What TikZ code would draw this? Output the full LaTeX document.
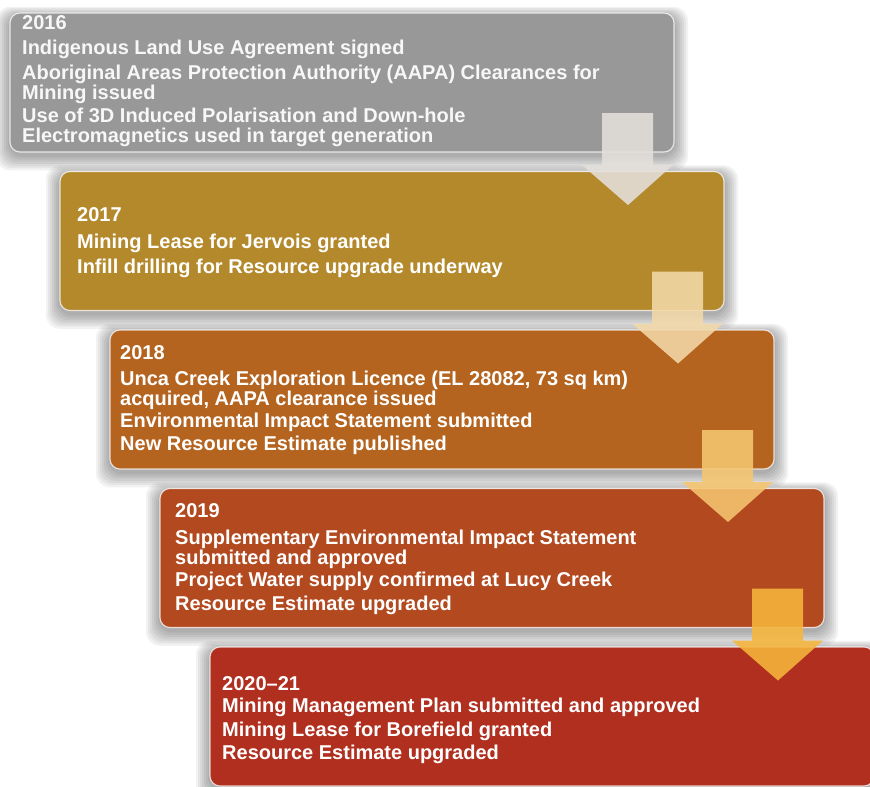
\documentclass[tikz,border=0pt]{standalone}
\usepackage{fontspec}
\setmainfont{Liberation Sans}
\usetikzlibrary{calc}
\definecolor{cbox1}{HTML}{989898}
\definecolor{cbox2}{HTML}{B4892C}
\definecolor{cbox3}{HTML}{B4641F}
\definecolor{cbox4}{HTML}{B2491F}
\definecolor{cbox5}{HTML}{B02F1F}
\definecolor{carr1}{HTML}{E4E0DC}
\definecolor{carr2}{HTML}{F3D9A8}
\definecolor{carr3}{HTML}{F6C670}
\definecolor{carr4}{HTML}{F7B63C}
\begin{document}
\begin{tikzpicture}[x=1pt,y=-1pt,
  box/.style={rectangle, rounded corners=10pt, minimum width=664pt, minimum height=139pt,
    inner sep=0pt, outer sep=0pt, anchor=north west, draw=white, draw opacity=0.75, line width=1.1pt},
  txt/.style={anchor=north west, align=left, inner sep=0pt, text=white,
    font=\bfseries\fontsize{20}{20}\selectfont},
  shadowlayer/.style={fill=black, fill opacity=0.05, rounded corners=14pt},
  pics/blockarrow/.style={code={
    \fill[#1, fill opacity=0.88] (0,0) -- (-46,-40) -- (-26,-40) -- (-26,-92) -- (25,-92)
      -- (25,-40) -- (45,-40) -- cycle;}}
]
\fill[white] (0,0) rectangle (870,787);
\clip (0,0) rectangle (870,787);
\useasboundingbox (0,0) rectangle (870,787);

% box 1
\foreach \k in {1,...,7}
  \fill[shadowlayer] (10-\k*2, 13-\k*1.3+3) rectangle (674+\k*2, 152+\k*2.2+3);
\node[box, fill=cbox1] (b1) at (10,13) {};
% box 2
\foreach \k in {1,...,7}
  \fill[shadowlayer] (60-\k*2, 171.5-\k*1.3+3) rectangle (724+\k*2, 310.5+\k*2.2+3);
\node[box, fill=cbox2] (b2) at (60,171.5) {};
% box 3
\foreach \k in {1,...,7}
  \fill[shadowlayer] (110-\k*2, 330-\k*1.3+3) rectangle (774+\k*2, 469+\k*2.2+3);
\node[box, fill=cbox3] (b3) at (110,330) {};
% box 4
\foreach \k in {1,...,7}
  \fill[shadowlayer] (160-\k*2, 488.5-\k*1.3+3) rectangle (824+\k*2, 627.5+\k*2.2+3);
\node[box, fill=cbox4] (b4) at (160,488.5) {};
% box 5
\foreach \k in {1,...,7}
  \fill[shadowlayer] (210-\k*2, 647-\k*1.3+3) rectangle (874+\k*2, 786+\k*2.2+3);
\node[box, fill=cbox5] (b5) at (210,647) {};

% texts
\node[txt, text=white!94!gray] (t1) at ($(b1.north west)+(12,2)$) {2016\\[5pt]
  Indigenous Land Use Agreement signed\\[5pt]
  Aboriginal Areas Protection Authority (AAPA) Clearances for\\
  Mining issued\\[3pt]
  Use of 3D Induced Polarisation and Down-hole\\
  Electromagnetics used in target generation};
\node[txt] (t2) at ($(b2.north west)+(17,35.5)$) {2017\\[7pt]
  Mining Lease for Jervois granted\\[5pt]
  Infill drilling for Resource upgrade underway};
\node[txt] (t3) at ($(b3.north west)+(10,15)$) {2018\\[6pt]
  Unca Creek Exploration Licence (EL 28082, 73 sq km)\\
  acquired, AAPA clearance issued\\[2pt]
  Environmental Impact Statement submitted\\[3pt]
  New Resource Estimate published};
\node[txt] (t4) at ($(b4.north west)+(15,14.5)$) {2019\\[7pt]
  Supplementary Environmental Impact Statement\\
  submitted and approved\\[2pt]
  Project Water supply confirmed at Lucy Creek\\[4pt]
  Resource Estimate upgraded};
\node[txt] (t5) at ($(b5.north west)+(12,29)$) {2020–21\\[2pt]
  Mining Management Plan submitted and approved\\[4pt]
  Mining Lease for Borefield granted\\[3pt]
  Resource Estimate upgraded};

% arrows
\coordinate (a1) at ($(b2.north east)+(-96,33.5)$);
\coordinate (a2) at ($(b3.north east)+(-96,33.5)$);
\coordinate (a3) at ($(b4.north east)+(-96,33.5)$);
\coordinate (a4) at ($(b5.north east)+(-96,33.5)$);
\pic at (a1) {blockarrow=carr1};
\pic at (a2) {blockarrow=carr2};
\pic at (a3) {blockarrow=carr3};
\pic at (a4) {blockarrow=carr4};
\end{tikzpicture}
\end{document}
